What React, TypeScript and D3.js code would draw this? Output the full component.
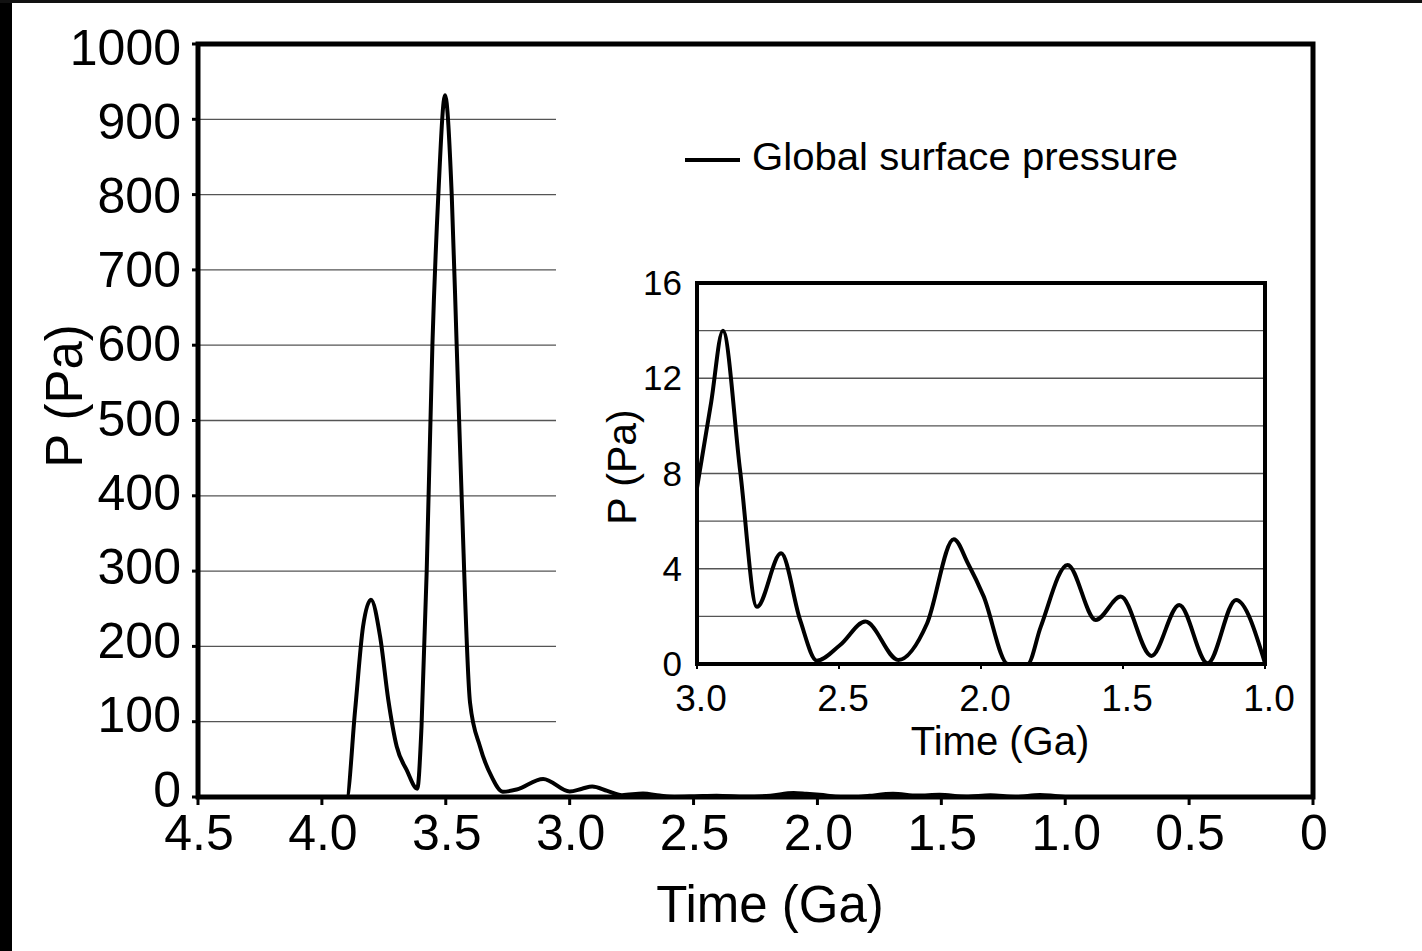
import React from "react";
import * as d3 from "d3";

// Time (Ga) and global surface pressure (Pa)
const times = [
  4.0, 3.9, 3.866, 3.834, 3.802, 3.765, 3.732, 3.698, 3.658, 3.615, 3.598, 3.577,
  3.554, 3.53, 3.503, 3.476, 3.456, 3.436, 3.402, 3.362, 3.315, 3.27, 3.214, 3.107,
  3.0, 2.95, 2.909, 2.848, 2.789, 2.704, 2.637, 2.578, 2.496, 2.407, 2.291, 2.19,
  2.096, 2.045, 1.991, 1.905, 1.836, 1.79, 1.695, 1.596, 1.508, 1.4, 1.302, 1.202,
  1.102, 1.0,
];
const pressures = [
  0, 0, 115, 226, 262, 213, 129, 67, 36, 11, 93, 300,
  600, 800, 932, 800, 600, 400, 125, 67, 27, 7, 10, 24,
  7.4, 11, 14.0, 8.1, 2.4, 4.65, 1.85, 0.14, 0.8, 1.78, 0.17, 1.7,
  5.24, 4.2, 2.85, 0, 0, 1.55, 4.16, 1.85, 2.83, 0.34, 2.48, 0.03,
  2.69, 0.04,
];

const mainXTicks = [4.5, 4.0, 3.5, 3.0, 2.5, 2.0, 1.5, 1.0, 0.5, 0];
const mainYTicks = [0, 100, 200, 300, 400, 500, 600, 700, 800, 900, 1000];
const insetXTicks = [3.0, 2.5, 2.0, 1.5, 1.0];
const insetYTicks = [0, 4, 8, 12, 16];
const insetGrid = [2, 4, 6, 8, 10, 12, 14];

const seriesName = "Global surface pressure";
const FONT = "'Liberation Sans', Arial, sans-serif";

export default function App() {
  const data = times.map((t, i) => ({ t, p: pressures[i] }));
  const insetData = data.filter((d) => d.t <= 3.0);

  const x = d3.scaleLinear().domain([4.5, 0]).range([198, 1313]);
  const y = d3.scaleLinear().domain([0, 1000]).range([797, 44]);
  // label centres drift slightly relative to ticks in the reference
  const yLab = d3.scaleLinear().domain([0, 1000]).range([788.5, 46.5]);
  const xi = d3.scaleLinear().domain([3.0, 1.0]).range([697, 1265]);
  const yi = d3.scaleLinear().domain([0, 16]).range([664, 283]);

  const line = d3
    .line<{ t: number; p: number }>()
    .x((d) => x(d.t))
    .y((d) => y(d.p))
    .curve(d3.curveMonotoneX);
  const lineI = d3
    .line<{ t: number; p: number }>()
    .x((d) => xi(d.t))
    .y((d) => yi(d.p))
    .curve(d3.curveMonotoneX);

  return (
    <svg
      width={1422}
      height={951}
      style={{ position: "absolute", left: 0, top: 0, background: "#fff" }}
      fontFamily={FONT}
    >
      <rect x={0} y={0} width={1422} height={951} fill="#fff" />
      <rect x={0} y={0} width={12} height={951} fill="#000" />
      <rect x={0} y={0} width={1422} height={3} fill="#111" />

      {/* main gridlines */}
      {mainYTicks
        .filter((v) => v > 0 && v < 1000)
        .map((v) => (
          <line key={"g" + v} x1={x(4.5)} x2={556} y1={y(v)} y2={y(v)} stroke="#555" strokeWidth={1.3} />
        ))}

      {/* main curve */}
      <path d={line(data) || ""} fill="none" stroke="#000" strokeWidth={4} strokeLinejoin="round" />

      {/* main frame */}
      <rect x={x(4.5)} y={y(1000)} width={x(0) - x(4.5)} height={y(0) - y(1000)} fill="none" stroke="#000" strokeWidth={5} />
      {mainXTicks.map((v) => (
        <g key={"xt" + v}>
          <line x1={x(v)} x2={x(v)} y1={y(0)} y2={y(0) + 8} stroke="#000" strokeWidth={3} />
          <text x={x(v) + 1} y={850} fontSize={50} textAnchor="middle" fill="#000">
            {v === 0 ? "0" : v.toFixed(1)}
          </text>
        </g>
      ))}
      {mainYTicks.map((v) => (
        <g key={"yt" + v}>
          <line x1={x(4.5) - 6} x2={x(4.5)} y1={y(v)} y2={y(v)} stroke="#000" strokeWidth={3} />
          <text x={181} y={yLab(v) + 18} fontSize={50} textAnchor="end" fill="#000">
            {v}
          </text>
        </g>
      ))}
      <text x={770} y={922} fontSize={51} textAnchor="middle" fill="#000">
        Time (Ga)
      </text>
      <text transform="translate(82,396) rotate(-90)" fontSize={51} textAnchor="middle" fill="#000">
        P (Pa)
      </text>

      {/* legend */}
      <line x1={685} x2={740} y1={160} y2={160} stroke="#000" strokeWidth={4} />
      <text x={752} y={170} fontSize={38} fill="#000" textLength={426} lengthAdjust="spacingAndGlyphs">
        {seriesName}
      </text>

      {/* inset */}
      {insetGrid.map((v) => (
        <line key={"ig" + v} x1={xi(3.0)} x2={xi(1.0)} y1={yi(v)} y2={yi(v)} stroke="#555" strokeWidth={1.3} />
      ))}
      <path d={lineI(insetData) || ""} fill="none" stroke="#000" strokeWidth={4} strokeLinejoin="round" />
      <rect x={xi(3.0)} y={yi(16)} width={xi(1.0) - xi(3.0)} height={yi(0) - yi(16)} fill="none" stroke="#000" strokeWidth={4} />
      {insetXTicks.map((v) => (
        <g key={"ixt" + v}>
          <line x1={xi(v)} x2={xi(v)} y1={yi(0)} y2={yi(0) + 5} stroke="#000" strokeWidth={2} />
          <text x={xi(v) + 4} y={711} fontSize={37} textAnchor="middle" fill="#000">
            {v.toFixed(1)}
          </text>
        </g>
      ))}
      {insetYTicks.map((v) => (
        <g key={"iyt" + v}>
          <text x={682} y={yi(v) + 12} fontSize={35} textAnchor="end" fill="#000">
            {v}
          </text>
        </g>
      ))}
      <text x={1000} y={755} fontSize={40} textAnchor="middle" fill="#000">
        Time (Ga)
      </text>
      <text transform="translate(636,467) rotate(-90)" fontSize={41} textAnchor="middle" fill="#000">
        P (Pa)
      </text>
    </svg>
  );
}
